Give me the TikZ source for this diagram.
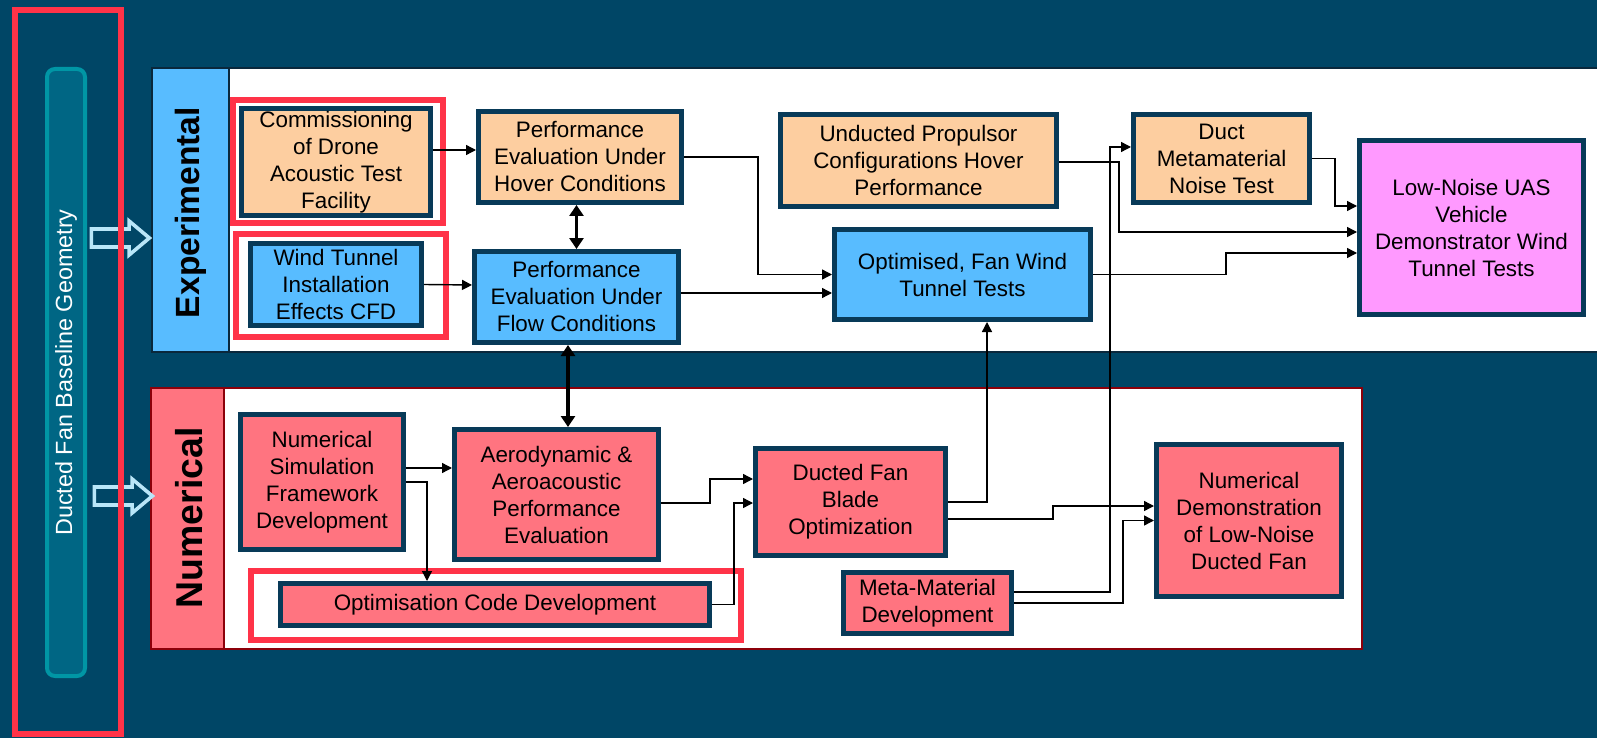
\documentclass[tikz,border=0pt]{standalone}
\usepackage{fontspec}
\setmainfont{Liberation Sans}
\usetikzlibrary{positioning, calc, arrows.meta, shapes.arrows}

\definecolor{navybg}{RGB}{0,70,102}
\definecolor{boxline}{RGB}{8,58,88}
\definecolor{peach}{RGB}{253,206,160}
\definecolor{skyblue}{RGB}{88,188,255}
\definecolor{salmon}{RGB}{255,116,128}
\definecolor{orchid}{RGB}{255,153,255}
\definecolor{hired}{RGB}{255,51,72}
\definecolor{tealfill}{RGB}{0,102,132}
\definecolor{tealline}{RGB}{0,150,165}
\definecolor{palearrow}{RGB}{185,230,248}
\definecolor{numline}{RGB}{140,0,10}
\definecolor{expline}{RGB}{10,40,60}

\begin{document}
\begin{tikzpicture}[x=0.5pt, y=-0.5pt]
        \tikzstyle{box}=[rectangle, draw=boxline, line width=2.5pt, inner sep=1pt, align=center, text=black, font=\fontsize{11.2}{13.5}\selectfont];
        \tikzstyle{hilite}=[draw=hired, line width=3pt];
        \tikzstyle{arr}=[-{Triangle[length=5pt,width=5pt]}, line width=0.7pt, black];
        \tikzstyle{dbl}=[{Triangle[length=5.5pt,width=7pt]}-{Triangle[length=5.5pt,width=7pt]}, line width=1.7pt, black];
        \tikzstyle{hollow}=[single arrow, draw=palearrow, fill=navybg, line width=1.8pt, minimum height=29pt, inner sep=3.6pt, single arrow head extend=4pt, single arrow tip angle=80];

        \fill[navybg] (0,0) rectangle (1597,738);
        \useasboundingbox (0,0) rectangle (1597,738);

        % panels
        \draw[expline, line width=1pt, fill=white] (152,68) rectangle (1600,352);
        \draw[expline, line width=1pt, fill=skyblue] (152,68) rectangle (229,352);
        \draw[numline, line width=1pt, fill=white] (151,388) rectangle (1362,649);
        \draw[numline, line width=1pt, fill=salmon] (151,388) rectangle (224,649);

        \node[rotate=90, font=\bfseries\fontsize{16.8}{18}\selectfont] (explab) at (191, 212.5) {Experimental};
        \node[rotate=90, font=\bfseries\fontsize{18.7}{20}\selectfont] (numlab) at (189, 518) {Numerical};

        \node[rotate=90, draw=tealline, fill=tealfill, line width=2pt, rounded corners=4pt, minimum width=303.5pt, minimum height=19pt, inner sep=0pt, text=white, font=\fontsize{11.7}{13}\selectfont] (base) at (66, 372.5) {Ducted Fan Baseline Geometry};

        \node[hollow] (arrA) at (115, 238) {};
        \node[hollow] (arrB) at (118, 496) {};
        \draw[hilite] (15,10) rectangle (121,734);

        \draw[hilite] (233,100) rectangle (443,223);
        \draw[hilite] (236,234) rectangle (446,337);
        \draw[hilite] (251,571) rectangle (741,640);

        \node[box, fill=peach, minimum width=94.5pt, minimum height=53.5pt] (comm) at (336, 162) {Commissioning\\of Drone\\Acoustic Test\\Facility};
        \node[box, fill=skyblue, minimum width=85.5pt, minimum height=41pt] (wind) at (336, 284.5) {Wind Tunnel\\Installation\\Effects CFD};
        \node[box, fill=peach, minimum width=101.5pt, minimum height=45.5pt] (hover) at (580, 157) {Performance\\Evaluation Under\\Hover Conditions};
        \node[box, fill=skyblue, minimum width=102pt, minimum height=45.5pt] (flow) at (576.5, 297) {Performance\\Evaluation Under\\Flow Conditions};
        \node[box, fill=peach, minimum width=138pt, minimum height=46pt] (unduct) at (918.5, 160.5) {Unducted Propulsor\\Configurations Hover\\Performance};
        \node[box, fill=skyblue, minimum width=128pt, minimum height=45pt] (optim) at (962.5, 274.5) {Optimised, Fan Wind\\Tunnel Tests};
        \node[box, fill=peach, minimum width=88pt, minimum height=44pt] (ductmeta) at (1221.5, 158.5) {Duct\\Metamaterial\\Noise Test};
        \node[box, fill=orchid, minimum width=112pt, minimum height=87pt] (lownoise) at (1471.5, 227.5) {Low-Noise UAS\\Vehicle\\Demonstrator Wind\\Tunnel Tests};

        \node[box, fill=salmon, minimum width=81.5pt, minimum height=67.5pt] (numsim) at (322, 482) {Numerical\\Simulation\\Framework\\Development};
        \node[box, fill=salmon, minimum width=102pt, minimum height=65pt] (aero) at (556.5, 494.5) {Aerodynamic \&\\Aeroacoustic\\Performance\\Evaluation};
        \node[box, fill=salmon, minimum width=214.5pt, minimum height=21pt] (optcode) at (495, 604.5) {Optimisation Code Development};
        \node[box, fill=salmon, minimum width=95pt, minimum height=53.5pt] (blade) at (850.5, 502) {Ducted Fan\\Blade\\Optimization};
        \node[box, fill=salmon, minimum width=84pt, minimum height=30.5pt] (meta) at (927.5, 603) {Meta-Material\\Development};
        \node[box, fill=salmon, minimum width=92.5pt, minimum height=76pt] (numdemo) at (1249, 520.5) {Numerical\\Demonstration\\of Low-Noise\\Ducted Fan};

        \draw[arr] ([yshift=6pt]comm.east) -- ([yshift=3.5pt]hover.west);
        \draw[arr] (wind.east) -- ([yshift=6pt]flow.west);
        \draw[dbl] (flow.north) -- (flow.north |- hover.south);
        \draw[dbl] ([xshift=-4.25pt]flow.south) -- ([xshift=5.75pt]aero.north);
        \draw[arr] (hover.east) -- ++(74,0) |- (optim.west);
        \draw[arr] ([yshift=2pt]flow.east) -- ([yshift=-9.25pt]optim.west);
        \draw[arr] ([yshift=-0.75pt]unduct.east) -- ++(60,0) |- ([yshift=-2.25pt]lownoise.west);
        \draw[arr] (ductmeta.east) -- ++(23,0) |- ([yshift=10.75pt]lownoise.west);
        \draw[arr] (optim.east) -- ++(133,0) |- ([yshift=-12.75pt]lownoise.west);

        \draw[arr] ([yshift=7pt]numsim.east) -- ([yshift=13.25pt]aero.west);
        \draw[arr] (numsim.east) -| ([xshift=-34pt]optcode.north);
        \draw[arr] ([yshift=-4.25pt]aero.east) -- ++(49,0) |- ([yshift=11.5pt]blade.west);
        \draw[arr] (optcode.east) -- ++(22,0) |- ([yshift=-0.5pt]blade.west);
        \draw[arr] (blade.east) -| ([xshift=12.25pt]optim.south);
        \draw[arr] ([yshift=-8.5pt]blade.east) -- ++(105,0) |- ([yshift=7.25pt]numdemo.west);
        \draw[arr] ([yshift=5.5pt]meta.east) -- ++(96,0) |- ([yshift=5.75pt]ductmeta.west);
        \draw[arr] (meta.east) -- ++(109,0) |- (numdemo.west);
\end{tikzpicture}
\end{document}
